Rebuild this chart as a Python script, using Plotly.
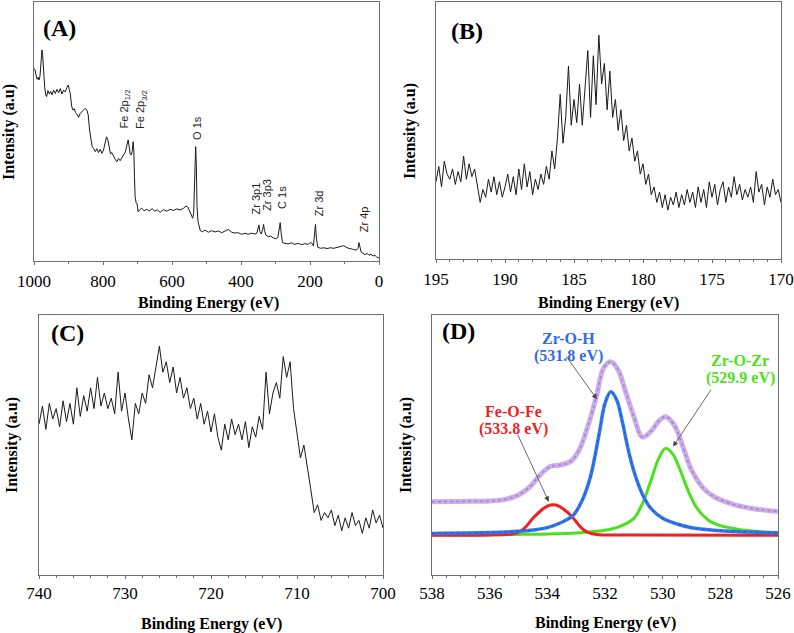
import plotly.graph_objects as go

# ---------------- Panel A: survey spectrum ----------------
a_x = [1000, 997, 994, 991, 988, 985.5, 982.6, 979.7, 976.9, 974.9, 972, 969, 966, 963.4, 959.5, 955.6,
       951.8, 947.9, 943.1, 938.3, 933.5, 928.6, 923.8, 919, 914.2, 909.4, 904.5, 900.7, 897.8, 894.9,
       891, 887.2, 883.3, 879.5, 875.6, 870.8, 866, 861.1, 856.3, 851.5, 846.7, 842.8, 839, 835.1, 831.3,
       827.4, 822.6, 817.7, 812.9, 808.1, 803.3, 798.5, 793.6, 789.8, 785.9, 782.1, 778.2, 774.4, 769.5,
       764.7, 759.9, 755.1, 750.2, 745.4, 740.6, 735.8, 730.9, 727.1, 724.2, 721.3, 718.4, 715.5, 712.6,
       710.7, 708.8, 706.9, 704, 701.1, 698.2, 694.3, 687.6, 680.8, 673.1, 665.4, 657.7, 650, 642.2, 634.5,
       624.9, 615.3, 605.6, 596, 586.4, 576.7, 567.1, 559.3, 554.5, 549.7, 544.9, 540.1, 537.2, 534.3,
       531.4, 529.4, 527.5, 524.6, 521.7, 517.9, 512.1, 504.4, 494.7, 485.1, 475.4, 465.8, 456.1, 446.5,
       436.8, 427.2, 417.6, 407.9, 398.3, 388.6, 379, 369.3, 359.7, 353.9, 351, 348.1, 345.2, 341.3, 337.5,
       334.6, 331.7, 327.8, 321.1, 314.3, 306.6, 298.9, 293.1, 289.2, 286.4, 283.5, 279.7, 272.9, 263.3,
       253.6, 244, 234.4, 224.7, 215.1, 205.4, 198.7, 193.8, 190, 187.1, 184.2, 181.3, 177.5, 169.7, 160.1,
       150.5, 140.8, 131.2, 121.5, 111.9, 102.2, 92.6, 82.9, 73.3, 65.6, 60.8, 57.9, 55, 52.1, 46.3, 40.5,
       34.7, 28.9, 23.1, 17.4, 11.6, 5.8, 0]
a_y = [74.3, 73.7, 71.7, 70.1, 70.8, 69.8, 71.3, 76.2, 81.4, 79.4, 71.1, 67.0, 64.0, 63.4, 65.7, 64.4,
       65.4, 64.1, 65.9, 64.6, 66.2, 64.9, 66.5, 64.4, 65.9, 65.2, 67.0, 67.9, 66.2, 64.6,
       59.8, 58.2, 58.7, 57.2, 56.7, 55.4, 56.9, 57.6, 58.2, 58.9, 58.2, 56.3, 50.5, 46.0, 44.1,
       43.4, 42.2, 43.3, 41.8, 43.1, 41.5, 42.8, 46.0, 47.9, 46.7, 43.4, 41.3, 41.8, 40.2,
       39.2, 38.3, 39.5, 38.7, 40.0, 40.9, 41.8, 44.1, 46.7, 44.1, 41.3, 40.9, 42.2, 46.0,
       42.8, 32.5, 24.8, 22.5, 22.0, 19.0, 19.7, 20.3, 19.4, 19.9, 19.3, 20.2, 19.2, 19.7, 18.8,
       19.8, 19.2, 19.9, 19.5, 20.1, 19.7, 20.3, 21.2, 20.9, 19.4, 18.4, 16.5, 18.4, 28.7,
       44.1, 36.4, 21.0, 15.2, 13.9, 11.7, 11.3, 11.9, 11.1, 11.7, 11.2, 11.6, 10.9, 11.4,
       12.2, 11.1, 10.8, 10.9, 10.3, 10.7, 10.3, 10.7, 10.4, 10.7, 12.0, 13.9, 11.3, 10.4, 12.0,
       14.1, 11.7, 10.0, 9.4, 9.6, 8.9, 8.6, 9.1, 12.0, 14.8, 10.7, 7.1, 6.8, 6.6,
       7.0, 6.4, 6.8, 6.3, 6.7, 6.4, 7.1, 6.8, 5.8, 10.7, 14.1, 8.7, 5.3, 4.9, 5.1,
       4.8, 5.1, 4.9, 5.3, 5.5, 5.9, 5.1, 4.6, 4.4, 4.2, 4.9, 7.1, 5.5, 3.5, 3.0, 2.4,
       3.0, 2.2, 2.7, 1.9, 2.2, 1.4, 1.2]
a_peak_labels = ["Fe 2p<sub>1/2</sub>", "Fe 2p<sub>3/2</sub>", "O 1s", "Zr 3p1", "Zr 3p3", "C 1s", "Zr 3d", "Zr 4p"]
a_peak_x = [736, 688, 527, 357, 323, 282, 174, 43]
a_peak_y = [50.2, 50.2, 46.0, 17.1, 18.4, 19.4, 16.5, 10.4]

# ---------------- Panel B: Zr 3d ----------------
b_x = [195.0, 194.8, 194.6, 194.4, 194.2, 194.0, 193.8, 193.6, 193.4, 193.2, 193.0, 192.8, 192.6, 192.4,
       192.2, 192.0, 191.8, 191.6, 191.4, 191.2, 191.0, 190.8, 190.6, 190.4, 190.2, 190.0, 189.8, 189.6,
       189.4, 189.2, 189.0, 188.8, 188.6, 188.4, 188.2, 188.0, 187.8, 187.6, 187.4, 187.2, 187.0, 186.8,
       186.6, 186.4, 186.2, 186.0, 185.8, 185.6, 185.4, 185.2, 185.0, 184.8, 184.6, 184.4, 184.2, 184.0,
       183.8, 183.6, 183.4, 183.2, 183.0, 182.8, 182.6, 182.4, 182.2, 182.0, 181.8, 181.6, 181.4, 181.2,
       181.0, 180.8, 180.6, 180.4, 180.2, 180.0, 179.8, 179.6, 179.4, 179.2, 179.0, 178.8, 178.6, 178.4,
       178.2, 178.0, 177.8, 177.6, 177.4, 177.2, 177.0, 176.8, 176.6, 176.4, 176.2, 176.0, 175.8, 175.6,
       175.4, 175.2, 175.0, 174.8, 174.6, 174.4, 174.2, 174.0, 173.8, 173.6, 173.4, 173.2, 173.0, 172.8,
       172.6, 172.4, 172.2, 172.0, 171.8, 171.6, 171.4, 171.2, 171.0, 170.8, 170.6, 170.4, 170.2, 170.0]
b_y = [30, 36, 28, 38, 33, 31, 35, 29, 34, 30, 40, 31, 37, 32,
       35, 29, 22, 27, 24, 31, 26, 32, 25, 30, 24, 28, 33, 26,
       32, 25, 35, 27, 37, 28, 34, 25, 31, 27, 33, 29, 36, 31,
       42, 35, 47, 64, 45, 55, 75, 52, 62, 53, 68, 52, 65, 81,
       55, 79, 60, 87, 68, 76, 58, 73, 55, 62, 50, 58, 46, 52,
       42, 47, 38, 42, 33, 37, 29, 33, 25, 28, 22, 26, 20, 25,
       19, 24, 21, 26, 20, 25, 21, 27, 22, 26, 20, 28, 22, 27,
       20, 30, 24, 29, 21, 27, 30, 22, 28, 24, 32, 25, 29, 23,
       27, 24, 28, 22, 34, 26, 29, 21, 28, 24, 31, 25, 27, 22]

# ---------------- Panel C: Fe 2p ----------------
c_x = [740.0, 739.6, 739.2, 738.8, 738.4, 738.0, 737.6, 737.2, 736.8, 736.4, 736.0, 735.6, 735.2, 734.8,
       734.4, 734.0, 733.6, 733.2, 732.8, 732.4, 732.0, 731.6, 731.2, 730.8, 730.4, 730.0, 729.6, 729.2,
       728.8, 728.4, 728.0, 727.6, 727.2, 726.8, 726.4, 726.0, 725.6, 725.2, 724.8, 724.4, 724.0, 723.6,
       723.2, 722.8, 722.4, 722.0, 721.6, 721.2, 720.8, 720.4, 720.0, 719.6, 719.2, 718.8, 718.4, 718.0,
       717.6, 717.2, 716.8, 716.4, 716.0, 715.6, 715.2, 714.8, 714.4, 714.0, 713.6, 713.2, 712.8, 712.4,
       712.0, 711.6, 711.2, 710.8, 710.4, 710.0, 709.6, 709.2, 708.8, 708.4, 708.0, 707.6, 707.2, 706.8,
       706.4, 706.0, 705.6, 705.2, 704.8, 704.4, 704.0, 703.6, 703.2, 702.8, 702.4, 702.0, 701.6, 701.2,
       700.8, 700.4, 700.0]
c_y = [58, 65, 56, 66, 60, 64, 57, 67, 59, 66, 58, 72, 61, 69,
       63, 72, 64, 76, 65, 70, 64, 68, 62, 78, 63, 70, 60, 52,
       66, 62, 70, 66, 77, 72, 80, 88, 78, 82, 74, 80, 70, 76,
       68, 72, 64, 68, 60, 66, 58, 63, 55, 62, 53, 48, 58, 52,
       60, 54, 58, 52, 59, 49, 57, 53, 61, 56, 78, 62, 70, 74,
       68, 84, 76, 82, 64, 55, 45, 50, 42, 33, 24, 27, 21, 24,
       22, 25, 19, 23, 17, 22, 18, 24, 19, 21, 16, 22, 18, 25,
       20, 23, 18]

# ---------------- Panel D: O 1s fit ----------------
env_x = [538, 537, 536, 535.5, 535, 534.6, 534.25, 533.9, 533.55, 533.2, 532.9, 532.6, 532.3, 532.05,
         531.8, 531.55, 531.3, 531.0, 530.7, 530.4, 530.15, 529.9, 529.6, 529.3, 529.0, 528.6, 528.2,
         527.5, 527, 526.5, 526]
env_y = [28.2, 28.3, 28.5, 29.0, 30.8, 34.0, 38.5, 41.7, 42.3, 43.6, 48.0, 57.0, 68.6, 79.5,
         82.0, 79.0, 71.0, 60.9, 53.0, 55.3, 59.0, 60.9, 57.7, 49.4, 40.4, 33.5, 30.0,
         27.0, 25.8, 25.0, 24.4]
zroh_x = [538, 536, 535, 534.5, 534, 533.5, 533.1, 532.8, 532.5, 532.2, 532.0, 531.8, 531.6, 531.4,
          531.2, 531.0, 530.7, 530.4, 530.0, 529.5, 529, 528, 527, 526]
zroh_y = [16.0, 16.3, 16.8, 17.3, 18.2, 20.3, 23.0, 28.5, 38.0, 54.5, 66.0, 70.5, 67.5, 59.0,
          48.5, 40.0, 31.0, 25.5, 21.8, 19.6, 18.2, 17.0, 16.5, 16.2]
zrozr_x = [538, 535, 533, 532, 531.5, 531.0, 530.7, 530.4, 530.15, 529.9, 529.65, 529.4, 529.1, 528.8,
           528.4, 528, 527.5, 527, 526]
zrozr_y = [15.4, 15.6, 16.2, 17.2, 18.6, 21.8, 27.5, 36.5, 44.5, 48.7, 46.5, 40.5, 32.0, 25.5,
           21.0, 19.0, 17.8, 17.0, 16.3]
feofe_x = [538, 536, 535.2, 535.0, 534.8, 534.5, 534.2, 534.0, 533.8, 533.6, 533.4, 533.2, 533.0, 532.8,
           532.6, 532.3, 531, 526]
feofe_y = [15.3, 15.4, 15.8, 16.5, 17.9, 21.8, 25.0, 26.5, 27.0, 26.5, 25.0, 23.1, 20.5, 17.9,
           16.4, 15.6, 15.4, 15.3]

SERIF = "Liberation Serif"
SANS = "Liberation Sans"
W, H = 794, 633

fig = go.Figure()
fig.add_trace(go.Scatter(x=a_x, y=a_y, mode="lines", line=dict(color="#1a1a1a", width=1),
                         xaxis="x", yaxis="y", showlegend=False))
fig.add_trace(go.Scatter(x=b_x, y=b_y, mode="lines", line=dict(color="#1a1a1a", width=1),
                         xaxis="x2", yaxis="y2", showlegend=False))
fig.add_trace(go.Scatter(x=c_x, y=c_y, mode="lines", line=dict(color="#1a1a1a", width=1),
                         xaxis="x3", yaxis="y3", showlegend=False))
# D
fig.add_trace(go.Scatter(x=env_x, y=env_y, mode="lines", line=dict(color="#CDAEEA", width=5, shape="spline"),
                         xaxis="x4", yaxis="y4", showlegend=False))
fig.add_trace(go.Scatter(x=env_x, y=env_y, mode="lines",
                         line=dict(color="#A387CC", width=1.5, shape="spline", dash="dot"),
                         xaxis="x4", yaxis="y4", showlegend=False))
fig.add_trace(go.Scatter(x=zrozr_x, y=zrozr_y, mode="lines", line=dict(color="#4CE11E", width=3, shape="spline"),
                         xaxis="x4", yaxis="y4", showlegend=False))
fig.add_trace(go.Scatter(x=feofe_x, y=feofe_y, mode="lines", line=dict(color="#F21F1F", width=3, shape="spline"),
                         xaxis="x4", yaxis="y4", showlegend=False))
fig.add_trace(go.Scatter(x=zroh_x, y=zroh_y, mode="lines", line=dict(color="#3476EE", width=3.5, shape="spline"),
                         xaxis="x4", yaxis="y4", showlegend=False))
fig.add_trace(go.Scatter(x=zroh_x, y=zroh_y, mode="lines",
                         line=dict(color="#1F5FD8", width=1.2, shape="spline", dash="dot"),
                         xaxis="x4", yaxis="y4", showlegend=False))


def px2fx(px):
    return px / W


def py2fy(py):
    return 1 - py / H


frame = "#6e6e6e"
TICKFONT = dict(family="Liberation Serif, Times New Roman, serif", size=17, color="black")


def xaxis(rng, dtick, minor, dom, anchor, standoff):
    return dict(range=rng, dtick=dtick, domain=dom, anchor=anchor, showline=True, linecolor=frame,
                linewidth=1, mirror=True, ticks="outside", ticklen=3, tickcolor=frame, tickwidth=1,
                minor=dict(ticks="outside", ticklen=2, dtick=minor, tickcolor=frame),
                showgrid=False, zeroline=False, ticklabelstandoff=standoff, automargin=False,
                tickfont=TICKFONT)


def yaxis(dom, anchor):
    return dict(range=[0, 100], domain=dom, anchor=anchor, showline=True, linecolor=frame, linewidth=1,
                mirror=True, ticks="", showticklabels=False, showgrid=False, zeroline=False,
                automargin=False)


domA_x = [px2fx(34), px2fx(379)]
domA_y = [py2fy(261), py2fy(1.7)]
domB_x = [px2fx(436), px2fx(781)]
domB_y = [py2fy(259), py2fy(1.7)]
domC_x = [px2fx(39), px2fx(383)]
domC_y = [py2fy(575), py2fy(315)]
domD_x = [px2fx(432), px2fx(778)]
domD_y = [py2fy(575), py2fy(315)]

fig.update_layout(
    template="none",
    width=W, height=H, margin=dict(l=0, r=0, t=0, b=0, autoexpand=False),
    paper_bgcolor="white", plot_bgcolor="white", showlegend=False,
    font=dict(family=SERIF, color="black"),
    xaxis=xaxis([1000, 0], 200, 100, domA_x, "y", 2),
    yaxis=yaxis(domA_y, "x"),
    xaxis2=xaxis([195, 170], 5, 1, domB_x, "y2", 2),
    yaxis2=yaxis(domB_y, "x2"),
    xaxis3=xaxis([740, 700], 10, 2, domC_x, "y3", 0),
    yaxis3=yaxis(domC_y, "x3"),
    xaxis4=xaxis([538, 526], 2, 0.5, domD_x, "y4", 0),
    yaxis4=yaxis(domD_y, "x4"),
)

ann = []
# panel labels
for lab, px, py in [("(A)", 41, 28), ("(B)", 449, 31), ("(C)", 49, 333), ("(D)", 440, 331)]:
    ann.append(dict(text="<b>" + lab + "</b>", x=px2fx(px), y=py2fy(py), xref="paper", yref="paper",
                    xanchor="left", yanchor="middle", showarrow=False,
                    font=dict(family=SERIF, size=24, color="black")))
# axis titles
for cx, cy in [(208, 303), (608, 303), (211, 624), (605, 623)]:
    ann.append(dict(text="<b>Binding Energy (eV)</b>", x=px2fx(cx), y=py2fy(cy), xref="paper", yref="paper",
                    xanchor="center", yanchor="middle", showarrow=False,
                    font=dict(family=SERIF, size=16, color="black")))
for cx, cy in [(9, 132), (410, 131), (12, 445), (406, 445)]:
    ann.append(dict(text="<b>Intensity (a.u)</b>", x=px2fx(cx), y=py2fy(cy), xref="paper", yref="paper",
                    xanchor="center", yanchor="middle", textangle=-90, showarrow=False,
                    font=dict(family=SERIF, size=16, color="black")))
# peak labels in A
for t, x, y in zip(a_peak_labels, a_peak_x, a_peak_y):
    ann.append(dict(text=t, x=x, y=y, xref="x", yref="y", xanchor="center", yanchor="bottom",
                    textangle=-90, showarrow=False, font=dict(family=SANS, size=11, color="#222")))
# D labels
for lines, color, cx, ys in [(["Zr-O-H", "(531.8 eV)"], "#2F6BEA", 568, [338, 356]),
                             (["Zr-O-Zr", "(529.9 eV)"], "#4FE020", 740, [360, 378]),
                             (["Fe-O-Fe", "(533.8 eV)"], "#F21F1F", 513, [411, 429])]:
    for t, yy in zip(lines, ys):
        ann.append(dict(text="<b>" + t + "</b>", x=px2fx(cx), y=py2fy(yy), xref="paper", yref="paper",
                        xanchor="center", yanchor="middle", showarrow=False,
                        font=dict(family=SERIF, size=16, color=color)))
# D arrows
for hx, hy, tx, ty in [(532.28, 67.6, 533.38, 84.6), (529.64, 49.4, 528.29, 71.8), (533.95, 28.2, 535.05, 54.5)]:
    ann.append(dict(text="", x=hx, y=hy, ax=tx, ay=ty, xref="x4", yref="y4", axref="x4", ayref="y4",
                    showarrow=True, arrowhead=2, arrowsize=1.3, arrowwidth=0.8, arrowcolor="#444"))

fig.update_layout(annotations=ann)
fig.write_html("out.html", config={"displayModeBar": False},
               post_script="document.body.style.margin='0';document.body.style.overflow='hidden';")
